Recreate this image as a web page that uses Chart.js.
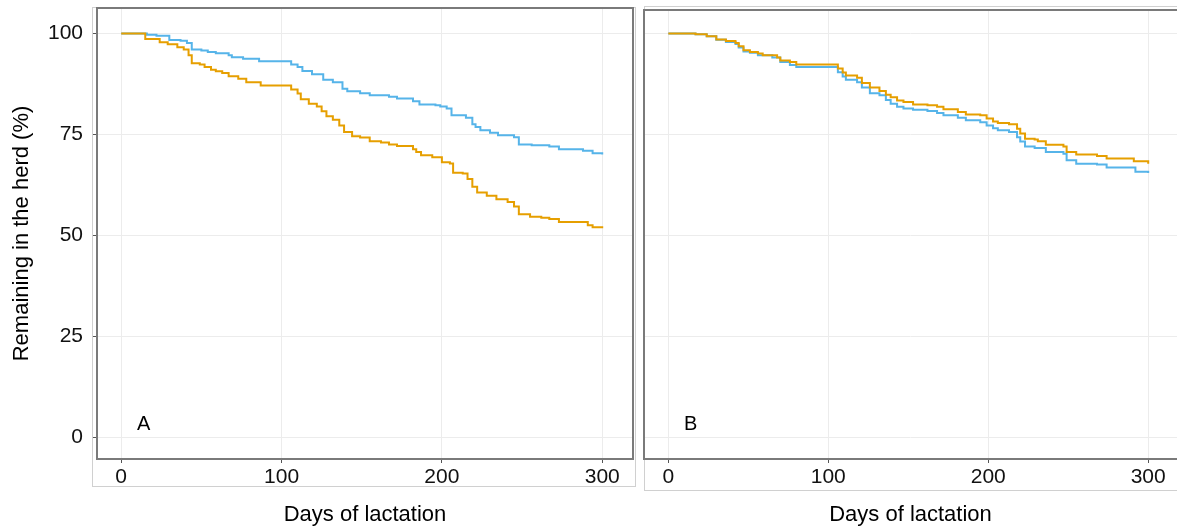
<!DOCTYPE html>
<html>
<head>
<meta charset="utf-8">
<script src="https://cdn.jsdelivr.net/npm/chart.js@4.4.1/dist/chart.umd.min.js"></script>
<style>
  html,body{margin:0;padding:0;background:#fff;overflow:hidden;}
  #wrapA{position:absolute;left:0;top:0;width:641px;height:532px;}
  #wrapB{position:absolute;left:641px;top:0;width:536px;height:532px;}
</style>
</head>
<body>
<div id="wrapA"><canvas id="chartA" width="641" height="532"></canvas></div>
<div id="wrapB"><canvas id="chartB" width="536" height="532"></canvas></div>
<script>
// tick positions
const xTicks = [0, 100, 200, 300];
const yTicks = [0, 25, 50, 75, 100];

// panel A - survival steps (day, % remaining)
const aDaysBlue = [0,16,22,30,37,41,44,50,54,59,67,69,76,86,106,110,113,119,126,132,138,141,149,155,167,172,182,186,196,199,203,206,215,219,221,224,230,235,245,248,256,267,273,288,294,300];
const aPctBlue  = [100,99.7,99.4,98.4,98.2,97.6,96.0,95.8,95.4,95.1,94.6,94.1,93.7,93.1,92.3,91.7,90.7,89.9,88.5,87.9,86.3,85.7,85.2,84.7,84.3,83.9,83.2,82.4,82.2,81.9,81.4,79.7,79.1,77.5,76.8,76.0,75.4,74.8,74.3,72.5,72.3,72.0,71.3,70.9,70.3,70.0];
const aDaysOrange = [0,15,24,29,35,39,42,44,49,52,56,59,63,67,73,78,87,106,110,112,117,122,125,128,132,136,139,144,149,155,162,167,172,182,184,187,194,200,205,207,213,216,219,222,228,234,241,245,248,255,262,267,273,291,294,300];
const aPctOrange  = [100,98.6,97.8,97.3,96.6,96.0,94.6,92.6,92.3,91.7,91.0,90.6,90.2,89.4,88.8,87.9,87.1,86.1,85.1,83.7,82.6,81.9,80.7,79.5,78.6,77.2,75.6,74.5,74.2,73.3,73.0,72.5,72.1,71.3,70.6,69.8,69.3,68.1,67.8,65.5,65.3,63.9,62.0,60.6,59.8,58.9,58.2,57.1,55.2,54.6,54.3,54.0,53.3,52.5,52.0,51.7];

// panel B
const bDaysBlue = [0,17,24,30,36,42,44,47,51,56,65,70,76,80,106,109,111,118,121,126,132,136,139,143,147,153,162,168,172,181,186,195,199,203,206,213,218,220,223,229,236,247,249,255,268,274,292,300];
const bPctBlue  = [100,99.8,99.3,98.4,97.9,97.4,96.5,95.5,95.2,94.6,94.0,92.9,92.2,91.7,90.4,89.3,88.5,87.9,86.6,85.2,84.7,83.5,82.6,81.8,81.4,81.1,80.8,80.3,79.7,79.1,78.5,78.0,77.2,76.5,76.0,75.6,74.3,73.2,72.0,71.6,70.6,70.2,68.6,67.7,67.5,66.8,65.7,65.4];
const bDaysOrange = [0,17,24,30,36,42,44,47,51,56,59,68,70,76,80,106,109,111,118,121,126,132,136,139,143,147,153,162,168,172,181,186,195,199,203,206,213,218,220,223,229,231,236,247,249,255,268,274,291,300];
const bPctOrange  = [100,99.8,99.3,98.5,98.1,97.6,96.8,95.8,95.4,95.0,94.6,94.0,93.3,92.9,92.3,91.3,90.3,89.6,89.0,87.7,86.6,85.7,84.8,84.2,83.4,83.0,82.4,82.2,81.8,81.2,80.5,79.9,79.7,78.9,78.2,77.8,77.5,76.4,75.2,73.9,73.7,73.3,72.4,72.0,70.6,70.0,69.6,69.0,68.3,67.7];

const BLUE = '#56B4E9', ORANGE = '#E69F00';
const FONT = '"Liberation Sans", Arial, sans-serif';

function pts(xs, ys){ return xs.map((x,i)=>({x, y: ys[i]})); }

function series(xs, ys, color){
  return { data: pts(xs, ys), borderColor: color, borderWidth: 2, pointRadius: 0,
    stepped: true, fill: false, tension: 0 };
}

// no extra room for end labels, the layout padding handles it
function noPad(s){ s.paddingTop = 0; s.paddingBottom = 0; s.paddingLeft = 0; s.paddingRight = 0; }

// panel border, outer light frame and panel letter
const panelDeco = {
  id: 'panelDeco',
  afterDraw(chart, args, o){
    const {ctx, chartArea: a} = chart;
    ctx.save();
    ctx.strokeStyle = '#d0d0d0'; ctx.lineWidth = 1;
    ctx.strokeRect(o.frame[0]+0.5, o.frame[1]+0.5, o.frame[2], o.frame[3]);
    ctx.strokeStyle = '#7a7a7a'; ctx.lineWidth = 2;
    ctx.strokeRect(a.left, a.top, (o.openRight ? a.width + 10 : a.width), a.height);
    ctx.fillStyle = '#000';
    ctx.font = '20px ' + FONT;
    ctx.textAlign = 'center'; ctx.textBaseline = 'middle';
    const sx = chart.scales.x, sy = chart.scales.y;
    ctx.fillText(o.letter, sx.getPixelForValue(14), sy.getPixelForValue(3));
    ctx.restore();
  }
};

function makeOpts(cfg){
  return {
    responsive: false, animation: false, devicePixelRatio: 1,
    layout: { padding: { top: cfg.top, right: cfg.right, left: 0, bottom: 0 } },
    plugins: { legend: { display: false }, tooltip: { enabled: false }, panelDeco: cfg.deco },
    scales: {
      x: {
        type: 'linear', min: cfg.xmin, max: cfg.xmax,
        afterBuildTicks: s => { s.ticks = xTicks.map(v => ({ value: v })); },
        afterFit: s => { s.height = 73; noPad(s); },
        grid: { color: '#ececec', lineWidth: 1, tickLength: 4, tickColor: '#555', tickWidth: 1 },
        border: { display: false },
        ticks: { color: '#111', font: { family: FONT, size: 21 }, padding: 2, maxRotation: 0 },
        title: { display: true, text: 'Days of lactation', color: '#000',
          font: { family: FONT, size: 22 }, padding: { top: 0, bottom: 4 } }
      },
      y: {
        type: 'linear', min: -5.45, max: cfg.ymax,
        afterBuildTicks: s => { s.ticks = yTicks.map(v => ({ value: v })); },
        afterFit: s => { s.width = cfg.yWidth; noPad(s); },
        grid: { color: '#ececec', lineWidth: 1, drawTicks: cfg.showY, tickLength: 5, tickColor: '#555' },
        border: { display: false },
        ticks: { display: cfg.showY, color: '#111', font: { family: FONT, size: 21 }, padding: 9 },
        title: { display: cfg.showY, text: 'Remaining in the herd (%)', color: '#000',
          font: { family: FONT, size: 22 }, padding: { top: 9, bottom: 0 } }
      }
    }
  };
}

new Chart(document.getElementById('chartA'), {
  type: 'line',
  data: { datasets: [ series(aDaysOrange, aPctOrange, ORANGE), series(aDaysBlue, aPctBlue, BLUE) ] },
  options: makeOpts({ top: 8, right: 8, xmin: -15.1, xmax: 319.2, ymax: 106.3, yWidth: 97, showY: true,
    deco: { letter: 'A', frame: [92, 7, 543, 479], openRight: false } }),
  plugins: [panelDeco]
});

new Chart(document.getElementById('chartB'), {
  type: 'line',
  data: { datasets: [ series(bDaysOrange, bPctOrange, ORANGE), series(bDaysBlue, bPctBlue, BLUE) ] },
  options: makeOpts({ top: 10, right: 0, xmin: -15.2, xmax: 318, ymax: 105.8, yWidth: 3, showY: false,
    deco: { letter: 'B', frame: [3, 6, 540, 484], openRight: true } }),
  plugins: [panelDeco]
});
</script>
</body>
</html>
